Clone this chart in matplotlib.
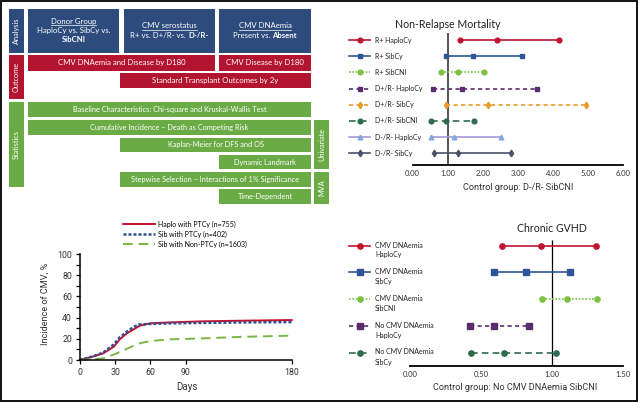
import matplotlib
matplotlib.use("Agg")
import matplotlib.pyplot as plt
from matplotlib.patches import Rectangle

W, H = 640, 403
plt.rcParams["font.family"] = ["Lato", "DejaVu Sans"]
NARROW = ["Roboto", "DejaVu Sans"]

# ---- data -------------------------------------------------------------
days = [0, 10, 20, 29, 34, 40, 46, 51, 60, 77, 105, 133, 180]
haplo_ptcy = [0, 2.8, 6.3, 12.6, 19.5, 25.2, 29.0, 32.4, 34.6, 35.5, 36.5, 37.0, 37.7]
sib_ptcy = [0, 3.0, 7.0, 14.8, 21.4, 26.7, 31.4, 33.6, 34.0, 34.6, 35.0, 35.4, 35.8]
sib_nonptcy = [0, 0.6, 1.6, 5.2, 7.5, 10.5, 13.5, 15.8, 17.9, 19.5, 20.4, 21.7, 23.0]
cmv_names = ["Haplo with PTCy (n=755)", "Sib with PTCy (n=402)", "Sib with Non-PTCy (n=1603)"]
cmv_yticks = [0, 20, 40, 60, 80, 100]
cmv_xticks = [0, 30, 60, 90, 180]

nrm_labels = ["R+ HaploCy", "R+ SibCy", "R+ SibCNI", "D+/R- HaploCy",
              "D+/R- SibCy", "D+/R- SibCNI", "D-/R- HaploCy", "D-/R- SibCy"]
nrm_hr = [2.41, 1.72, 1.30, 1.42, 2.14, 0.96, 1.17, 1.30]
nrm_lo = [1.35, 0.94, 0.80, 0.58, 0.96, 0.54, 0.54, 0.61]
nrm_hi = [4.17, 3.13, 2.03, 3.55, 4.95, 1.76, 2.53, 2.79]
nrm_ticks = [0, 1, 2, 3, 4, 5, 6]

gvhd_labels = ["CMV DNAemia\nHaploCy", "CMV DNAemia\nSibCy", "CMV DNAemia\nSibCNI",
               "No CMV DNAemia\nHaploCy", "No CMV DNAemia\nSibCy"]
gvhd_hr = [0.925, 0.82, 1.11, 0.59, 0.66]
gvhd_lo = [0.65, 0.59, 0.93, 0.42, 0.43]
gvhd_hi = [1.31, 1.13, 1.32, 0.84, 1.03]
gvhd_ticks = [0, 0.5, 1.0, 1.5]

side_labels = ["Analysis", "Outcome", "Statistics", "Univariate", "MVA"]
outcome_texts = ["CMV DNAemia and Disease by D180", "CMV Disease by D180",
                 "Standard Transplant Outcomes by 2y"]
stat_texts = ["Baseline Characteristics: Chi-square and Kruskal-Wallis Test",
              "Cumulative Incidence \u2013 Death as Competing Risk",
              "Kaplan-Meier for DFS and OS", "Dynamic Landmark",
              "Stepwise Selection \u2013 Interactions of 1% Significance",
              "Time-Dependent"]

# ---- styles / layout ----------------------------------------------------
NAVY, RED, GREEN = "#2e4b7d", "#b3142f", "#6aab45"
side_boxes = [(9, 9, 24, 53, NAVY), (9, 55, 24, 99, RED), (9, 102, 24, 187, GREEN),
              (314, 120, 329, 169, GREEN), (314, 172, 329, 204, GREEN)]
analysis_boxes = [(28, 9, 119, 53), (124, 9, 215, 53), (219, 9, 311, 53)]
outcome_boxes = [(28, 55, 215, 71), (219, 55, 311, 71), (120, 73, 311, 88)]
stat_boxes = [(28, 102, 311, 117), (28, 120, 311, 135), (120, 138, 311, 152),
              (219, 155, 311, 169), (120, 172, 311, 187), (219, 189, 311, 204)]

cmv_styles = [dict(color="#c8102e", lw=1.4, ls="-"),
              dict(color="#2f4f8f", lw=1.8, ls=(0, (1.2, 0.8))),
              dict(color="#7ab648", lw=1.4, ls=(0, (5, 3)))]

nrm_styles = [
    dict(color="#c0132f", ls="-", marker="o", mfc="#c0132f"),
    dict(color="#2e5597", ls="-", marker="s", mfc="#2e5597"),
    dict(color="#7dc142", ls=(0, (1, 1)), marker="o", mfc="#7dc142"),
    dict(color="#5b2c6f", ls=(0, (2.5, 2)), marker="s", mfc="#5b2c6f"),
    dict(color="#e89a2a", ls=(0, (2.5, 2)), marker="d", mfc="#e89a2a"),
    dict(color="#2f6b4f", ls=(0, (4, 2.5)), marker="o", mfc="#2f6b4f"),
    dict(color="#a39bd6", ls="-", marker="^", mfc="#80a9df"),
    dict(color="#4b4f6b", ls="-", marker="d", mfc="#4b4f6b"),
]
gvhd_styles = nrm_styles[:3] + [nrm_styles[3], nrm_styles[5]]


def px_axes(fig, x0, y0, x1, y1):
    return fig.add_axes([x0 / W, 1 - y1 / H, (x1 - x0) / W, (y1 - y0) / H])


def centred_line(ax, renderer, cx, cy, parts, size, underline=False):
    """Centre a line of white text made of (text, weight) pieces."""
    texts = [ax.text(0, cy, s, ha="left", va="center", color="white",
                     fontsize=size, fontweight=w) for s, w in parts]
    widths = [t.get_window_extent(renderer).width for t in texts]
    x = cx - sum(widths) / 2
    for t, w in zip(texts, widths):
        t.set_x(x)
        x += w
    if underline:
        ax.plot([cx - sum(widths) / 2, cx + sum(widths) / 2], [cy + 3.6] * 2,
                color="white", lw=0.5)


def forest(ax, labels, hr, lo, hi, styles, key_x, text_x, ms, row_px):
    for i, st in enumerate(styles):
        kw = dict(color=st["color"], ls=st["ls"], lw=1.2, marker=st["marker"],
                  mfc=st["mfc"], mec=st["mfc"], ms=ms, clip_on=False)
        ax.plot([lo[i], hr[i], hi[i]], [i, i, i], **kw)
        ax.plot(key_x, [i, i], color=st["color"], ls=st["ls"], lw=1.2, clip_on=False)
        ax.plot([(key_x[0] + key_x[1]) / 2], [i], marker=st["marker"], ls="none",
                mfc=st["mfc"], mec=st["mfc"], ms=ms, clip_on=False)
        if "\n" in labels[i]:
            ax.text(text_x, i - 4.2 / row_px, labels[i], fontsize=5, va="top",
                    color="#222222", linespacing=1.5)
        else:
            ax.text(text_x, i, labels[i], fontsize=5, va="center", color="#222222")
    for s in ["top", "right", "left"]:
        ax.spines[s].set_visible(False)
    ax.spines["bottom"].set_linewidth(1.3)
    ax.set_yticks([])
    ax.tick_params(axis="x", length=0, pad=3.5, labelsize=5.5, labelcolor="#333333")
    ax.set_facecolor("none")


fig = plt.figure(figsize=(W / 100, H / 100), dpi=100)
renderer = fig.canvas.get_renderer()

# ---- schematic ----------------------------------------------------------
bg = fig.add_axes([0, 0, 1, 1])
bg.set_xlim(0, W)
bg.set_ylim(H, 0)
bg.axis("off")
bg.add_patch(Rectangle((1, 1), 636, 400, fill=False, ec="black", lw=1.3))

for name, (x0, y0, x1, y1, c) in zip(side_labels, side_boxes):
    bg.add_patch(Rectangle((x0, y0), x1 - x0, y1 - y0, color=c, lw=0))
    bg.text((x0 + x1) / 2, (y0 + y1) / 2, name, rotation=90, ha="center",
            va="center", color="white", fontsize=5.3)

for (x0, y0, x1, y1) in analysis_boxes:
    bg.add_patch(Rectangle((x0, y0), x1 - x0, y1 - y0, color=NAVY, lw=0))
centred_line(bg, renderer, 73.5, 21.5, [("Donor Group", "normal")], 5.6, True)
centred_line(bg, renderer, 73.5, 30.5, [("HaploCy vs. SibCy vs.", "normal")], 5.6)
centred_line(bg, renderer, 73.5, 39, [("SibCNI", "bold")], 5.6)
centred_line(bg, renderer, 169.5, 26, [("CMV serostatus", "normal")], 5.6, True)
centred_line(bg, renderer, 169.5, 35.5, [("R+ vs. D+/R- vs. ", "normal"), ("D-/R-", "bold")], 5.6)
centred_line(bg, renderer, 265, 26, [("CMV DNAemia", "normal")], 5.6, True)
centred_line(bg, renderer, 265, 35.5, [("Present vs. ", "normal"), ("Absent", "bold")], 5.6)

for txt, (x0, y0, x1, y1) in zip(outcome_texts, outcome_boxes):
    bg.add_patch(Rectangle((x0, y0), x1 - x0, y1 - y0, color=RED, lw=0))
    bg.text((x0 + x1) / 2, (y0 + y1) / 2, txt, ha="center", va="center",
            color="white", fontsize=5.6)

for txt, (x0, y0, x1, y1) in zip(stat_texts, stat_boxes):
    bg.add_patch(Rectangle((x0, y0), x1 - x0, y1 - y0, color=GREEN, lw=0))
    bg.text((x0 + x1) / 2, (y0 + y1) / 2, txt, ha="center", va="center",
            color="white", fontsize=5.3)

# ---- CMV incidence ------------------------------------------------------
ax = px_axes(fig, 79.7, 254, 291.7, 360)
for ys, name, st in zip([haplo_ptcy, sib_ptcy, sib_nonptcy], cmv_names, cmv_styles):
    ax.plot(days, ys, label=name, clip_on=False, **st)
ax.set_xlim(0, 180)
ax.set_ylim(0, 100)
ax.set_xticks(cmv_xticks)
ax.set_yticks(cmv_yticks)
ax.set_yticks(range(10, 100, 20), minor=True)
for s in ["top", "right"]:
    ax.spines[s].set_visible(False)
for s in ["left", "bottom"]:
    ax.spines[s].set_linewidth(1.1)
ax.tick_params(length=3, width=0.9, pad=2.5, labelsize=6.3, labelcolor="#333333")
ax.tick_params(which="minor", length=3, width=0.9)
for lab in ax.get_xticklabels() + ax.get_yticklabels():
    lab.set_family(NARROW)
ax.text(-0.165, 0.53, "Incidence of CMV, %", rotation=90, ha="center", va="center",
        transform=ax.transAxes, fontsize=6.6, family=NARROW, color="#333333")
ax.text(0.506, -0.255, "Days", ha="center", va="center", transform=ax.transAxes,
        fontsize=7, family=NARROW, color="#333333")
ax.legend(loc="upper left", bbox_to_anchor=(123 / W, 1 - 220.5 / H),
          bbox_transform=fig.transFigure, frameon=False, fontsize=5,
          handlelength=4.6, handletextpad=0.45, labelspacing=0.42, borderpad=0,
          borderaxespad=0)
ax.set_facecolor("none")

# ---- Non-relapse mortality forest --------------------------------------
s1 = 35.13
ax1 = px_axes(fig, 345, 30, 630, 165)
forest(ax1, nrm_labels, nrm_hr, nrm_lo, nrm_hi, nrm_styles,
       [(349 - 412.5) / s1, (370 - 412.5) / s1], (375 - 412.5) / s1, 3.4, 16.17)
ax1.set_xlim((345 - 412.5) / s1, (630 - 412.5) / s1)
ax1.set_ylim((165 - 40) / 16.17, (30 - 40) / 16.17)
ax1.spines["bottom"].set_bounds(0, 6)
ax1.set_xticks(nrm_ticks)
ax1.set_xticklabels([f"{v:.2f}" for v in nrm_ticks])
ax1.vlines(1, (33 - 40) / 16.17, (165 - 40) / 16.17, color="#555555", lw=1.4, zorder=1)
fig.text(518 / W, 1 - 188 / H, "Control group: D-/R- SibCNI", ha="center",
         va="center", fontsize=6.6, family=NARROW, color="#333333")
fig.text(448 / W, 1 - 25 / H, "Non-Relapse Mortality", ha="center", va="center",
         fontsize=7.6, color="#222222")

# ---- Chronic GVHD forest ------------------------------------------------
s2 = 141.67
ax2 = px_axes(fig, 345, 235, 630, 366)
forest(ax2, gvhd_labels, gvhd_hr, gvhd_lo, gvhd_hi, gvhd_styles,
       [(349 - 410) / s2, (370 - 410) / s2], (375 - 410) / s2, 3.8, 26.75)
ax2.set_xlim((345 - 410) / s2, (630 - 410) / s2)
ax2.set_ylim((366 - 245.7) / 26.75, (235 - 245.7) / 26.75)
ax2.spines["bottom"].set_bounds(0, 1.5)
ax2.set_xticks(gvhd_ticks)
ax2.set_xticklabels([f"{v:.2f}" for v in gvhd_ticks])
ax2.vlines(1, (240 - 245.7) / 26.75, (366 - 245.7) / 26.75, color="black", lw=0.9, zorder=1)
fig.text(551.7 / W, 1 - 229 / H, "Chronic GVHD", ha="center", va="center",
         fontsize=7.6, color="#222222")
fig.text(515 / W, 1 - 387 / H, "Control group: No CMV DNAemia SibCNI", ha="center",
         va="center", fontsize=6.6, family=NARROW, color="#333333")

fig.savefig("out.png", dpi=100)
